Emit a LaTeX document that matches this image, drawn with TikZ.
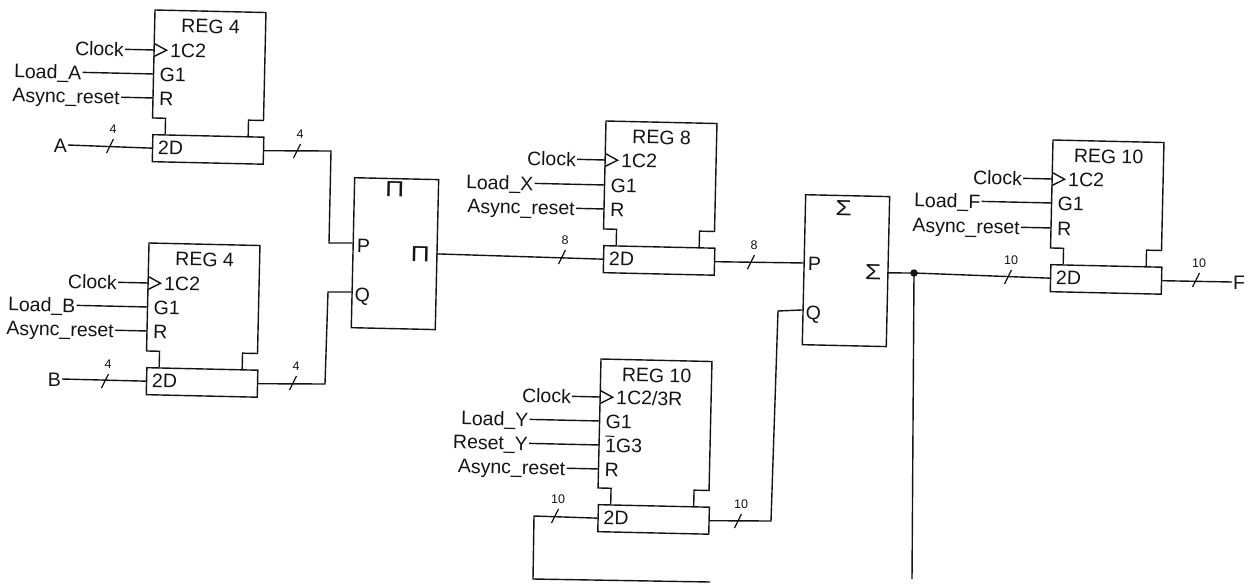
\documentclass[tikz,border=0pt]{standalone}
\usepackage{fontspec}
\setmainfont{Liberation Sans}
\definecolor{ink}{gray}{0.08}
\tikzset{
  wire/.style={draw=ink,line width=1.4pt,line join=miter},
  lbl/.style={inner sep=1pt,text=ink,font=\fontsize{19.5}{19.5}\selectfont,text height=14pt,text depth=0pt},
  buslbl/.style={inner sep=0pt,text=ink,font=\fontsize{12.5}{12.5}\selectfont},
  blockbox/.style={wire,rectangle,inner sep=0pt,anchor=north west},
  regarea/.style={rectangle,inner sep=0pt,anchor=north west,minimum width=111pt},
  junction/.style={circle,fill=ink,inner sep=0pt,minimum size=7.5pt},
  reg/.style={rotate=-1.3,transform shape},
}
\newcommand{\inpin}[5]{% reg, key, y, label right end, text
  \coordinate (#1-#2) at (0,#3);
  \node[lbl,anchor=east] (#1-#2-lbl) at (-#4,#3) {#5};
  \draw[wire] (#1-#2-lbl.east) -- (#1-#2);
}
\newcommand{\regblock}[6]{% name,x,y,h,title,rows
  \begin{scope}[shift={(#2,#3)},reg]
    \node[regarea,minimum height=#4pt] (#1) at (0,0) {};
    \node[blockbox,minimum width=111pt,minimum height=27pt] (#1-d) at (0,#4+16) {};
    \node[lbl,anchor=west] (#1-dt) at (5,#4+29.5) {2D};
    \node[lbl] (#1-t) at (56,15) {#5};
    \draw[wire] (13,#4+16) -- (13,#4) -- (0,#4) -- (0,0) -- (111,0) -- (111,#4) -- (96,#4) -- (96,#4+16);
    #6
  \end{scope}
}
\newcommand{\clockpin}[4]{% reg,y,label right end,text
  \inpin{#1}{clk}{#2}{#3}{Clock}
  \draw[wire] (0,#2-6.5) -- (12.5,#2) -- (0,#2+6.5);
  \node[lbl,anchor=west] (#1-clkt) at (15,#2) {#4};
}
\newcommand{\rowpin}[5]{\inpin{#1}{#2}{#3}{#4}{#5}}
\newcommand{\rowtext}[4]{\node[lbl,anchor=west] (#1-#2t) at (5,#3) {#4};}
\newcommand{\busmark}[5]{% name,x,y,label,unused
  \coordinate (#1) at (#2,#3);
  \draw[wire,line width=1.2pt] ([shift={(-3.5,7)}]#1) -- ([shift={(3.5,-7)}]#1);
  \node[buslbl] (#1-l) at ([shift={(3,-16.5)}]#1) {#4};
}
\newcommand{\symb}[1]{\scalebox{1.35}[1.12]{#1}}
\newcommand{\barone}{\makebox[0pt][l]{\rule[15.5pt]{9pt}{1pt}}1}
\begin{document}
\begin{tikzpicture}[x=1pt,y=-1pt]
\useasboundingbox[fill=white] (0,0) rectangle (1255,584);

\regblock{ra}{155}{10}{108}{REG 4}{
  \clockpin{ra}{40}{29}{1C2}
  \rowpin{ra}{g}{64}{71}{Load\_A}\rowtext{ra}{g}{64}{G1}
  \rowpin{ra}{r}{88}{32}{Async\_reset}\rowtext{ra}{r}{88}{R}
}
\regblock{rb}{149}{243}{108}{REG 4}{
  \clockpin{rb}{40}{30}{1C2}
  \rowpin{rb}{g}{64}{71}{Load\_B}\rowtext{rb}{g}{64}{G1}
  \rowpin{rb}{r}{88}{32}{Async\_reset}\rowtext{rb}{r}{88}{R}
}
\regblock{rx}{606}{121}{108}{REG 8}{
  \clockpin{rx}{39}{28}{1C2}
  \rowpin{rx}{g}{64}{70}{Load\_X}\rowtext{rx}{g}{64}{G1}
  \rowpin{rx}{r}{88}{28}{Async\_reset}\rowtext{rx}{r}{88}{R}
}
\regblock{rf}{1053}{140}{108}{REG 10}{
  \clockpin{rf}{39}{29}{1C2}
  \rowpin{rf}{g}{63}{70}{Load\_F}\rowtext{rf}{g}{63}{G1}
  \rowpin{rf}{r}{88}{30}{Async\_reset}\rowtext{rf}{r}{88}{R}
}
\regblock{ry}{601}{359}{129}{REG 10}{
  \clockpin{ry}{38}{28}{1C2/3R}
  \rowpin{ry}{g}{62}{70}{Load\_Y}\rowtext{ry}{g}{62}{G1}
  \rowpin{ry}{s}{86}{70}{Reset\_Y}\rowtext{ry}{s}{86}{\barone G3}
  \rowpin{ry}{r}{110}{32}{Async\_reset}\rowtext{ry}{r}{110}{R}
}

\begin{scope}[shift={(354,177)},reg]
  \node[blockbox,minimum width=84pt,minimum height=150pt] (mul) at (0,0) {};
  \node[lbl] (mul-t) at (41,12) {\symb{Π}};
  \node[lbl] (mul-pt) at (11,68) {P};
  \node[lbl] (mul-qt) at (11,117) {Q};
  \node[lbl] (mul-ot) at (68,76) {\symb{Π}};
  \coordinate (mul-p) at (0,66);
  \coordinate (mul-q) at (0,115);
  \coordinate (mul-o) at (84,75);
\end{scope}
\begin{scope}[shift={(805,194)},reg]
  \node[blockbox,minimum width=84pt,minimum height=150pt] (add) at (0,0) {};
  \node[lbl] (add-t) at (39,14) {\symb{Σ}};
  \node[lbl] (add-pt) at (11,69) {P};
  \node[lbl] (add-qt) at (11,118) {Q};
  \node[lbl] (add-ot) at (70,77) {\symb{Σ}};
  \coordinate (add-p) at (0,69);
  \coordinate (add-q) at (0,116);
  \coordinate (add-o) at (84,77);
\end{scope}

% external inputs / outputs
\node[lbl,anchor=east] (ina) at (68,145) {A};
\node[lbl,anchor=east] (inb) at (62,379) {B};
\node[lbl,anchor=west] (outf) at (1232,282) {F};

\busmark{ba}{110}{146}{4}{}
\busmark{bb}{105}{381}{4}{}
\busmark{bao}{297}{151}{4}{}
\busmark{bbo}{293}{383}{4}{}
\busmark{bm}{562}{257}{8}{}
\busmark{bxo}{751}{262}{8}{}
\busmark{bs}{1008}{277}{10}{}
\busmark{bfo}{1196}{280}{10}{}
\busmark{byf}{555}{516}{10}{}
\busmark{byo}{738}{521}{10}{}

\node[junction] (dot) at (914,273) {};

\coordinate (c1) at (331,151);
\coordinate (c2) at (329,243);
\coordinate (c3) at (325,384);
\coordinate (c4) at (328,292);
\coordinate (c5) at (771,521);
\coordinate (c6) at (778,311);
\coordinate (c7) at (534,516);
\coordinate (c8) at (533,579);
\coordinate (e1) at (710,582);
\coordinate (e2) at (912,579);

\draw[wire] (ina.east) -- (ra-d.west);
\draw[wire] (inb.east) -- (rb-d.west);
\draw[wire] (ra-d.east) -- (c1) -- (c2) -- (mul-p);
\draw[wire] (rb-d.east) -- (c3) -- (c4) -- (mul-q);
\draw[wire] (mul-o) -- (rx-d.west);
\draw[wire] (rx-d.east) -- (add-p);
\draw[wire] (ry-d.east) -- (c5) -- (c6) -- (add-q);
\draw[wire] (add-o) -- (dot.center) -- (rf-d.west);
\draw[wire] (dot.center) -- (e2);
\draw[wire] (rf-d.east) -- (outf.west);
\draw[wire] (ry-d.west) -- (c7) -- (c8) -- (e1);
\end{tikzpicture}
\end{document}
